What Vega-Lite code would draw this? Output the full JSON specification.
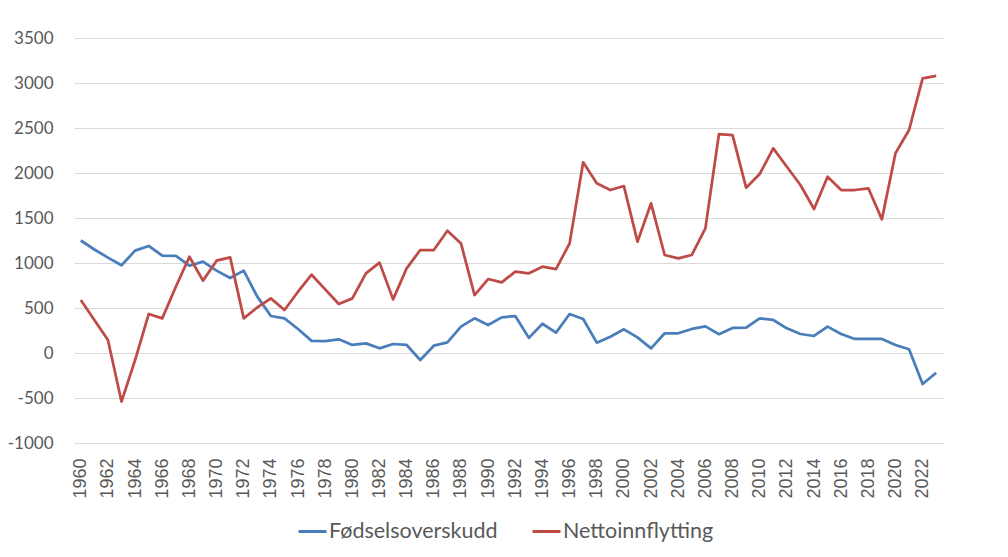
{
  "$schema": "https://vega.github.io/schema/vega-lite/v6.json",
  "width": 869,
  "height": 405,
  "autosize": {"type": "none"},
  "padding": {"left": 74, "top": 38, "right": 65, "bottom": 114},
  "background": "white",
  "data": {"values": [
    {"year":1960,"Fødselsoverskudd":1250,"Nettoinnflytting":589},
    {"year":1961,"Fødselsoverskudd":1150,"Nettoinnflytting":367},
    {"year":1962,"Fødselsoverskudd":1060,"Nettoinnflytting":144},
    {"year":1963,"Fødselsoverskudd":975,"Nettoinnflytting":-541},
    {"year":1964,"Fødselsoverskudd":1137,"Nettoinnflytting":-78},
    {"year":1965,"Fødselsoverskudd":1189,"Nettoinnflytting":433},
    {"year":1966,"Fødselsoverskudd":1081,"Nettoinnflytting":385},
    {"year":1967,"Fødselsoverskudd":1078,"Nettoinnflytting":737},
    {"year":1968,"Fødselsoverskudd":970,"Nettoinnflytting":1070},
    {"year":1969,"Fødselsoverskudd":1015,"Nettoinnflytting":804},
    {"year":1970,"Fødselsoverskudd":915,"Nettoinnflytting":1026},
    {"year":1971,"Fødselsoverskudd":833,"Nettoinnflytting":1063},
    {"year":1972,"Fødselsoverskudd":915,"Nettoinnflytting":385},
    {"year":1973,"Fødselsoverskudd":626,"Nettoinnflytting":507},
    {"year":1974,"Fødselsoverskudd":411,"Nettoinnflytting":607},
    {"year":1975,"Fødselsoverskudd":385,"Nettoinnflytting":478},
    {"year":1976,"Fødselsoverskudd":267,"Nettoinnflytting":681},
    {"year":1977,"Fødselsoverskudd":135,"Nettoinnflytting":870},
    {"year":1978,"Fødselsoverskudd":133,"Nettoinnflytting":707},
    {"year":1979,"Fødselsoverskudd":152,"Nettoinnflytting":544},
    {"year":1980,"Fødselsoverskudd":89,"Nettoinnflytting":607},
    {"year":1981,"Fødselsoverskudd":107,"Nettoinnflytting":885},
    {"year":1982,"Fødselsoverskudd":52,"Nettoinnflytting":1004},
    {"year":1983,"Fødselsoverskudd":100,"Nettoinnflytting":596},
    {"year":1984,"Fødselsoverskudd":89,"Nettoinnflytting":941},
    {"year":1985,"Fødselsoverskudd":-78,"Nettoinnflytting":1144},
    {"year":1986,"Fødselsoverskudd":81,"Nettoinnflytting":1144},
    {"year":1987,"Fødselsoverskudd":118,"Nettoinnflytting":1359},
    {"year":1988,"Fødselsoverskudd":293,"Nettoinnflytting":1218},
    {"year":1989,"Fødselsoverskudd":385,"Nettoinnflytting":644},
    {"year":1990,"Fødselsoverskudd":311,"Nettoinnflytting":822},
    {"year":1991,"Fødselsoverskudd":396,"Nettoinnflytting":785},
    {"year":1992,"Fødselsoverskudd":411,"Nettoinnflytting":904},
    {"year":1993,"Fødselsoverskudd":168,"Nettoinnflytting":885},
    {"year":1994,"Fødselsoverskudd":325,"Nettoinnflytting":959},
    {"year":1995,"Fødselsoverskudd":226,"Nettoinnflytting":933},
    {"year":1996,"Fødselsoverskudd":433,"Nettoinnflytting":1218},
    {"year":1997,"Fødselsoverskudd":378,"Nettoinnflytting":2119},
    {"year":1998,"Fødselsoverskudd":115,"Nettoinnflytting":1885},
    {"year":1999,"Fødselsoverskudd":181,"Nettoinnflytting":1811},
    {"year":2000,"Fødselsoverskudd":263,"Nettoinnflytting":1855},
    {"year":2001,"Fødselsoverskudd":174,"Nettoinnflytting":1237},
    {"year":2002,"Fødselsoverskudd":52,"Nettoinnflytting":1663},
    {"year":2003,"Fødselsoverskudd":219,"Nettoinnflytting":1089},
    {"year":2004,"Fødselsoverskudd":219,"Nettoinnflytting":1052},
    {"year":2005,"Fødselsoverskudd":267,"Nettoinnflytting":1089},
    {"year":2006,"Fødselsoverskudd":296,"Nettoinnflytting":1385},
    {"year":2007,"Fødselsoverskudd":209,"Nettoinnflytting":2433},
    {"year":2008,"Fødselsoverskudd":278,"Nettoinnflytting":2420},
    {"year":2009,"Fødselsoverskudd":281,"Nettoinnflytting":1837},
    {"year":2010,"Fødselsoverskudd":385,"Nettoinnflytting":1989},
    {"year":2011,"Fødselsoverskudd":367,"Nettoinnflytting":2274},
    {"year":2012,"Fødselsoverskudd":274,"Nettoinnflytting":2070},
    {"year":2013,"Fødselsoverskudd":211,"Nettoinnflytting":1867},
    {"year":2014,"Fødselsoverskudd":189,"Nettoinnflytting":1600},
    {"year":2015,"Fødselsoverskudd":293,"Nettoinnflytting":1959},
    {"year":2016,"Fødselsoverskudd":211,"Nettoinnflytting":1811},
    {"year":2017,"Fødselsoverskudd":156,"Nettoinnflytting":1811},
    {"year":2018,"Fødselsoverskudd":156,"Nettoinnflytting":1830},
    {"year":2019,"Fødselsoverskudd":156,"Nettoinnflytting":1485},
    {"year":2020,"Fødselsoverskudd":89,"Nettoinnflytting":2219},
    {"year":2021,"Fødselsoverskudd":41,"Nettoinnflytting":2478},
    {"year":2022,"Fødselsoverskudd":-344,"Nettoinnflytting":3052},
    {"year":2023,"Fødselsoverskudd":-219,"Nettoinnflytting":3078}
  ]},
  "transform": [
    {"fold": ["Fødselsoverskudd", "Nettoinnflytting"], "as": ["series", "value"]}
  ],
  "mark": {"type": "line", "strokeWidth": 2.75, "strokeJoin": "round"},
  "encoding": {
    "x": {
      "field": "year",
      "type": "ordinal",
      "scale": {"type": "point", "padding": 0.5},
      "axis": {
        "title": null,
        "labelAngle": 270,
        "labelExpr": "datum.value % 2 == 0 ? datum.label : ''",
        "labelFont": "Liberation Sans",
        "labelFontSize": 18,
        "labelColor": "#595959",
        "labelPadding": 15,
        "labelOverlap": false,
        "labelLimit": 200,
        "ticks": false,
        "domain": true,
        "domainColor": "#d9d9d9",
        "grid": false
      }
    },
    "y": {
      "field": "value",
      "type": "quantitative",
      "scale": {"domain": [-1000, 3500], "nice": false, "zero": false},
      "axis": {
        "title": null,
        "values": [-1000, -500, 0, 500, 1000, 1500, 2000, 2500, 3000, 3500],
        "labelExpr": "'' + datum.value",
        "labelFont": "Lato",
        "labelFontSize": 17,
        "labelColor": "#595959",
        "labelPadding": 21,
        "ticks": false,
        "domain": false,
        "grid": true,
        "gridColor": "#d9d9d9",
        "gridWidth": 1
      }
    },
    "color": {
      "field": "series",
      "type": "nominal",
      "scale": {"domain": ["Fødselsoverskudd", "Nettoinnflytting"], "range": ["#4a7ebb", "#be4b48"]},
      "legend": {
        "title": null,
        "orient": "none",
        "direction": "horizontal",
        "legendX": 223,
        "legendY": 478,
        "symbolType": "stroke",
        "symbolSize": 784,
        "symbolStrokeWidth": 3,
        "labelFont": "Lato",
        "labelFontSize": 21.5,
        "labelLimit": 400,
        "labelColor": "#595959",
        "labelOffset": 1,
        "columnPadding": 28
      }
    }
  },
  "config": {"view": {"stroke": null}}
}
